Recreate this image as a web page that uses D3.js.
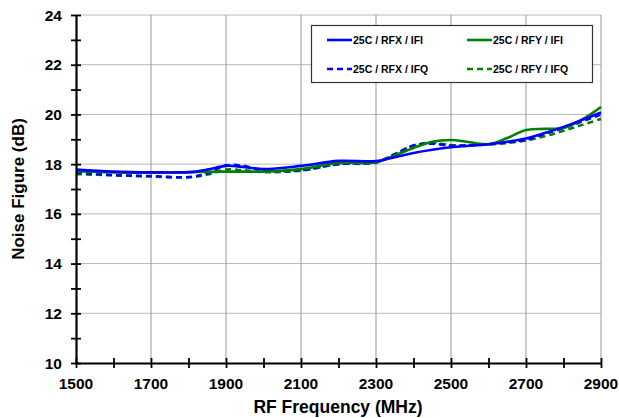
<!DOCTYPE html>
<html><head><meta charset="utf-8">
<script src="https://cdn.jsdelivr.net/npm/d3@7"></script>
<style>body{margin:0;background:#fff}svg{display:block;font-family:"Liberation Sans",Arial,sans-serif;font-weight:bold}</style>
</head><body><svg id="c" width="619" height="418"></svg>
<script>
const freqs = [1500,1600,1700,1800,1850,1900,1950,2000,2100,2200,2300,2350,2400,2450,2500,2550,2600,2650,2700,2750,2800,2850,2900];
const rfxIfi = [17.78,17.70,17.67,17.68,17.78,17.93,17.88,17.80,17.93,18.13,18.12,18.28,18.45,18.58,18.68,18.74,18.80,18.90,19.03,19.25,19.50,19.78,20.08];
const rfyIfi = [17.72,17.67,17.66,17.67,17.69,17.70,17.70,17.70,17.80,18.05,18.08,18.35,18.65,18.90,18.97,18.88,18.80,19.05,19.37,19.42,19.45,19.80,20.30];
const rfxIfq = [17.66,17.56,17.52,17.48,17.62,17.95,17.92,17.74,17.76,18.00,18.08,18.40,18.75,18.82,18.74,18.76,18.80,18.88,18.98,19.22,19.45,19.72,20.00];
const rfyIfq = [17.60,17.55,17.50,17.47,17.58,17.78,17.75,17.68,17.74,18.00,18.06,18.40,18.75,18.86,18.77,18.76,18.79,18.85,18.95,19.12,19.34,19.58,19.82];
const seriesNames = ["25C / RFX / IFI","25C / RFY / IFI","25C / RFX / IFQ","25C / RFY / IFQ"];
const xTicks = [1500,1700,1900,2100,2300,2500,2700,2900];
const yTicks = [10,12,14,16,18,20,22,24];

const svg = d3.select("#c");
const L=76,R=601,T=15,B=363;
const x = d3.scaleLinear().domain([1500,2900]).range([L,R]);
const y = d3.scaleLinear().domain([10,24]).range([B,T]);

// gridlines
svg.append("g").selectAll("line").data(yTicks.filter(v=>v>10)).join("line")
  .attr("x1",L).attr("x2",R).attr("y1",d=>y(d)).attr("y2",d=>y(d))
  .attr("stroke","#b8b8b8").attr("stroke-width",1);
svg.append("g").selectAll("line").data(xTicks.filter(v=>v>1500)).join("line")
  .attr("y1",T).attr("y2",B).attr("x1",d=>x(d)).attr("x2",d=>x(d))
  .attr("stroke","#999").attr("stroke-width",1);

// series
const specs = [
  {v:rfxIfi,c:"#0000ff",dash:null},
  {v:rfyIfi,c:"#008000",dash:null},
  {v:rfxIfq,c:"#0000ff",dash:"6,4"},
  {v:rfyIfq,c:"#008000",dash:"6,4"}
];
const line = d3.line().x((d,i)=>x(freqs[i])).y(d=>y(d)).curve(d3.curveCatmullRom.alpha(0.5));
const drawOrder=[3,2,1,0];
drawOrder.forEach(k=>{
  const s=specs[k];
  svg.append("path").attr("d",line(s.v)).attr("fill","none").attr("stroke",s.c)
    .attr("stroke-width",2.6).attr("stroke-dasharray",s.dash);
});

// axes
const xAxis = d3.axisBottom(x).tickValues(d3.range(1500,2901,100)).tickSize(0).tickFormat("");
const gx = svg.append("g").attr("transform",`translate(0,${B})`).call(xAxis);
gx.select(".domain").attr("stroke","#000").attr("stroke-width",2.2);
gx.selectAll(".tick line").attr("y1",-5).attr("y2",5).attr("stroke","#000").attr("stroke-width",1.8);
const yAxis = d3.axisLeft(y).tickValues(d3.range(10,24.01,1)).tickSize(0).tickFormat("");
const gy = svg.append("g").attr("transform",`translate(${L},0)`).call(yAxis);
gy.select(".domain").attr("stroke","#000").attr("stroke-width",2.2);
gy.selectAll(".tick line").attr("x1",-5).attr("x2",5).attr("stroke","#000").attr("stroke-width",1.8);

svg.append("g").selectAll("text").data(xTicks).join("text")
  .attr("x",d=>x(d)).attr("y",389).attr("text-anchor","middle").attr("font-size",15.5).text(d=>d);
svg.append("g").selectAll("text").data(yTicks).join("text")
  .attr("x",62).attr("y",d=>y(d)+5.5).attr("text-anchor","end").attr("font-size",15.5).text(d=>d);

svg.append("text").attr("x",338).attr("y",413).attr("text-anchor","middle").attr("font-size",17.5).text("RF Frequency (MHz)");
svg.append("text").attr("transform","translate(24,189) rotate(-90)").attr("text-anchor","middle").attr("font-size",17).text("Noise Figure (dB)");

// legend
const lg = svg.append("g");
lg.append("rect").attr("x",311.5).attr("y",25.5).attr("width",281).attr("height",57)
  .attr("fill","#fff").attr("stroke","#333").attr("stroke-width",1.2);
const pos=[[327,40],[467,40],[327,69],[467,69]];
specs.forEach((s,i)=>{
  const [px,py]=pos[i];
  lg.append("line").attr("x1",px).attr("x2",px+25).attr("y1",py).attr("y2",py)
    .attr("stroke",s.c).attr("stroke-width",2.6).attr("stroke-dasharray",s.dash?"6,4":null);
  lg.append("text").attr("x",px+26).attr("y",py+3.8).attr("font-size",10.5).text(seriesNames[i]);
});
</script></body></html>
